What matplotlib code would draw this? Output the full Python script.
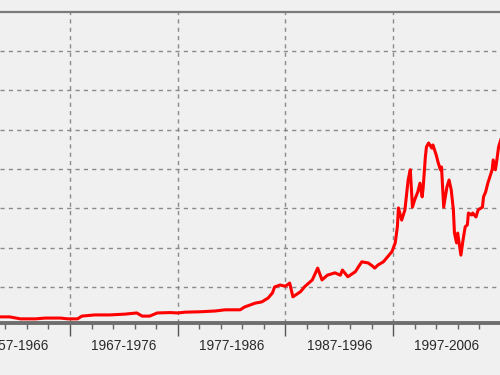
import matplotlib
matplotlib.use("Agg")
import matplotlib.pyplot as plt
import matplotlib.transforms as mtransforms

# series (decimal year, index value)
years = [1960.5, 1961.4, 1962.4, 1963.8, 1964.7, 1966.1, 1966.8, 1967.7,
         1968.1, 1969.3, 1970.7, 1972.1, 1973.2, 1973.7, 1974.4, 1975.1,
         1976.3, 1977.0, 1977.7, 1979.1, 1980.5, 1981.4, 1982.8, 1983.2,
         1984.2, 1984.8, 1985.4, 1985.8, 1986.0, 1986.5, 1987.0, 1987.4,
         1987.7, 1988.4, 1988.8, 1989.5, 1990.0, 1990.4, 1990.9, 1991.6,
         1992.1, 1992.3, 1992.8, 1993.5, 1993.9, 1994.1, 1994.7, 1995.1,
         1995.3, 1995.6, 1996.1, 1996.5, 1996.9, 1997.2, 1997.4, 1997.5,
         1997.8, 1998.1, 1998.4, 1998.6, 1998.8, 1999.0, 1999.3, 1999.5,
         1999.7, 1999.8, 2000.0, 2000.1, 2000.3, 2000.6, 2000.7, 2001.0,
         2001.2, 2001.4, 2001.5, 2001.7, 2002.0, 2002.2, 2002.4, 2002.6,
         2002.7, 2002.9, 2003.0, 2003.3, 2003.5, 2003.7, 2003.9, 2004.0,
         2004.3, 2004.4, 2004.7, 2004.9, 2005.3, 2005.4, 2005.6, 2005.8,
         2006.2, 2006.3, 2006.5, 2006.6, 2006.8, 2007.0]
values = [24, 24, 19, 19, 21, 21, 19, 19,
          26, 29, 29, 31, 34, 26, 26, 34,
          35, 34, 36, 37, 39, 42, 42, 49,
          59, 62, 72, 85, 100, 105, 102, 110,
          75, 88, 101, 118, 148, 118, 130, 136,
          130, 143, 126, 139, 156, 164, 161, 153,
          148, 156, 164, 177, 190, 212, 253, 301,
          270, 296, 372, 398, 303, 321, 342, 364,
          329, 354, 431, 456, 466, 453, 461, 436,
          415, 398, 405, 303, 354, 372, 347, 296,
          237, 212, 237, 181, 220, 253, 258, 288,
          283, 288, 278, 296, 303, 329, 342, 364,
          398, 423, 398, 415, 456, 474]

decades = [1957, 1967, 1977, 1987, 1997, 2007]
decade_labels = ["1957-1966", "1967-1976", "1977-1986", "1987-1996", "1997-2006"]
y_grid = [100, 200, 300, 400, 500, 600, 700]

bg = "#f0f0f0"
fig = plt.figure(figsize=(5, 3.75), dpi=100, facecolor=bg)
ax = fig.add_axes([0, 0.1387, 1, 0.8293], facecolor=bg)

ax.plot(years, values, color="#ff0000", linewidth=2.2, zorder=3)

ax.set_xticks(decades)
ax.set_xticks([y for y in range(1957, 2008, 2) if y not in decades], minor=True)
ax.set_yticks(y_grid)
ax.set_xlim(1960.5, 2006.93)
ax.set_ylim(8.5, 799)

ax.tick_params(axis="x", which="major", direction="out", length=9, width=1,
               color="#555555", labelbottom=False)
ax.tick_params(axis="x", which="minor", direction="out", length=4, width=1,
               color="#666666")
ax.tick_params(axis="y", left=False, labelleft=False)

ax.grid(True, which="major", color="#8a8a8a", linestyle=(0, (3, 3)), linewidth=1)

for side in ["left", "right"]:
    ax.spines[side].set_visible(False)
ax.spines["top"].set_color("#7a7a7a")
ax.spines["top"].set_linewidth(1.6)
ax.spines["bottom"].set_color("#6e6e6e")
ax.spines["bottom"].set_linewidth(2.8)

trans = mtransforms.blended_transform_factory(ax.transData, ax.transAxes)
for start, lab in zip(decades[:-1], decade_labels):
    ax.text(start + 5, -0.075, lab, transform=trans, ha="center", va="center",
            fontsize=9.8, family="Liberation Sans", color="#2a2a2a")

fig.savefig("out.png", dpi=100, facecolor=bg)
